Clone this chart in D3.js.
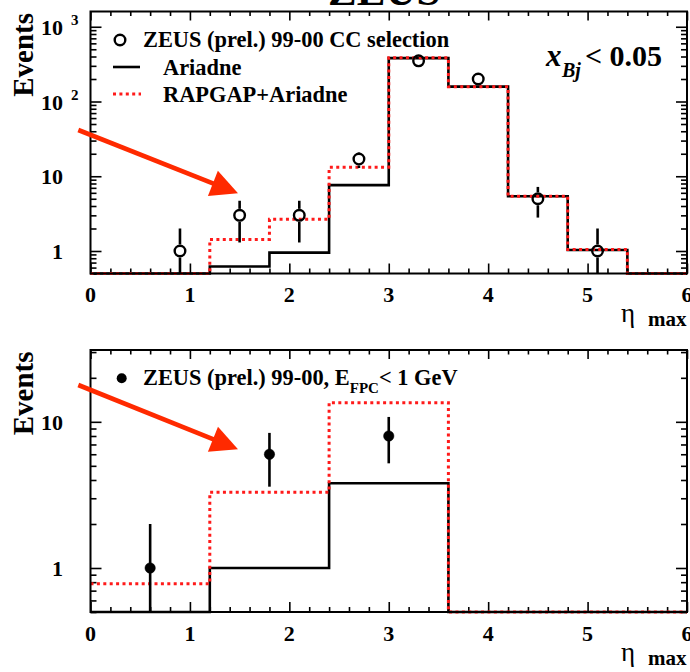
<!DOCTYPE html>
<html>
<head>
<meta charset="utf-8">
<script src="https://cdn.jsdelivr.net/npm/d3@7"></script>
<style>
  html, body { margin: 0; padding: 0; background: #fff; }
  svg text { font-family: "Liberation Serif", "Times New Roman", serif; }
</style>
</head>
<body>
<svg id="chart" width="690" height="672"></svg>
<script>
// ---------------- DATA ----------------
// Top panel (x_Bj < 0.05), bins of 0.6 in eta_max
const topEdges = [0, 0.6, 1.2, 1.8, 2.4, 3.0, 3.6, 4.2, 4.8, 5.4, 6.0];
const topAriadne = [0, 0, 0.62, 0.95, 7.6, 380, 158, 5.4, 1.03, 0];
const topRapgap  = [0, 0, 1.43, 2.65, 13.2, 385, 158, 5.4, 1.05, 0];
const topDataX   = [0.9, 1.5, 2.1, 2.7, 3.3, 3.9, 4.5, 5.1];
const topDataY   = [1, 3, 3, 17, 350, 200, 5, 1];
const topDataErr = [1, 1.7, 1.7, 4.1, 18.7, 14.1, 2.2, 1];
const topYTicks  = [1, 10, 100, 1000];
const topYBase   = ["1", "10", "10", "10"];
const topYExp    = ["", "", "2", "3"];

// Bottom panel (E_FPC < 1 GeV), bins of 1.2 in eta_max
const botEdges = [0, 1.2, 2.4, 3.6, 4.8, 6.0];
const botAriadne = [0, 1.0, 3.8, 0, 0];
const botRapgap  = [0.78, 3.3, 13.5, 0, 0];
const botDataX   = [0.6, 1.8, 3.0];
const botDataY   = [1, 6, 8];
const botDataErr = [1, 2.4, 2.8];
const botYTicks  = [1, 10];
const botYBase   = ["1", "10"];
const botYExp    = ["", ""];

const xTicks = [0, 1, 2, 3, 4, 5, 6];
const xTickLabels = ["0", "1", "2", "3", "4", "5", "6"];

const legendTop = ["ZEUS (prel.) 99-00 CC selection", "Ariadne", "RAPGAP+Ariadne"];

// ---------------- LAYOUT ----------------
const svg = d3.select("#chart");
svg.append("rect").attr("width", 690).attr("height", 672).attr("fill", "#fff");

const RED = "#ff1a1a";
const ARROW = "#ff2a00";
const xS = d3.scaleLinear().domain([0, 6]).range([90.5, 687]);
const yTop = d3.scaleLog().domain([0.5, 1600]).range([273.5, 11.5]);
const yBot = d3.scaleLog().domain([0.5, 31]).range([612, 350]);

function logMinors(dom) {
  const out = [];
  for (let e = -1; e <= 4; e++) {
    for (let m = 1; m <= 9; m++) {
      const v = m * Math.pow(10, e);
      if (v >= dom[0] - 1e-9 && v <= dom[1] + 1e-9) out.push(v);
    }
  }
  return out;
}

function histPoints(edges, vals, y) {
  const ymin = y.domain()[0];
  const pts = [];
  vals.forEach((v, i) => {
    const vv = Math.max(v, ymin);
    pts.push([xS(edges[i]), y(vv)]);
    pts.push([xS(edges[i + 1]), y(vv)]);
  });
  return pts;
}

function drawPanel(cfg) {
  const y = cfg.y;
  const [y0, y1] = y.range();
  const g = svg.append("g");
  const x0 = xS.range()[0], x1 = xS.range()[1];

  // ticks
  const xMinor = d3.range(0, 6.0001, 0.2).filter(v => Math.abs(v - Math.round(v)) > 1e-6);
  const tickStyle = sel => { sel.select(".domain").remove(); sel.selectAll("line").attr("stroke", "#000").attr("stroke-width", 1.6); sel.selectAll("text").remove(); };
  g.append("g").attr("transform", `translate(0,${y0})`).call(d3.axisBottom(xS).tickValues(xTicks).tickSize(-10).tickFormat("")).call(tickStyle);
  g.append("g").attr("transform", `translate(0,${y0})`).call(d3.axisBottom(xS).tickValues(xMinor).tickSize(-5).tickFormat("")).call(tickStyle);
  g.append("g").attr("transform", `translate(0,${y1})`).call(d3.axisTop(xS).tickValues(xTicks).tickSize(-9).tickFormat("")).call(tickStyle);
  g.append("g").attr("transform", `translate(0,${y1})`).call(d3.axisTop(xS).tickValues(xMinor).tickSize(-4.5).tickFormat("")).call(tickStyle);
  const minors = logMinors(y.domain()).filter(v => !cfg.yTicks.includes(v));
  g.append("g").attr("transform", `translate(${x0},0)`).call(d3.axisLeft(y).tickValues(cfg.yTicks).tickSize(-11).tickFormat("")).call(tickStyle);
  g.append("g").attr("transform", `translate(${x0},0)`).call(d3.axisLeft(y).tickValues(minors).tickSize(-6).tickFormat("")).call(tickStyle);
  g.append("g").attr("transform", `translate(${x1},0)`).call(d3.axisRight(y).tickValues(cfg.yTicks).tickSize(-11).tickFormat("")).call(tickStyle);
  g.append("g").attr("transform", `translate(${x1},0)`).call(d3.axisRight(y).tickValues(minors).tickSize(-6).tickFormat("")).call(tickStyle);

  // histograms
  const line = d3.line();
  g.append("path").attr("d", line(histPoints(cfg.edges, cfg.ariadne, y)))
    .attr("fill", "none").attr("stroke", "#000").attr("stroke-width", 2.6);
  g.append("path").attr("d", line(histPoints(cfg.edges, cfg.rapgap, y)))
    .attr("fill", "none").attr("stroke", RED).attr("stroke-width", 3).attr("stroke-dasharray", "3,3.4");

  // data points with error bars (gap around marker)
  const r = 5.3;
  cfg.dx.forEach((xv, i) => {
    const cy = y(cfg.dy[i]);
    const lo = Math.max(cfg.dy[i] - cfg.de[i], y.domain()[0]);
    const hi = cfg.dy[i] + cfg.de[i];
    const yl = y(lo), yh = y(hi);
    const gap = cfg.open ? r + 1.2 : 0;
    if (cy - gap > yh) g.append("line").attr("x1", xS(xv)).attr("x2", xS(xv)).attr("y1", yh).attr("y2", cy - gap).attr("stroke", "#000").attr("stroke-width", 2.6);
    if (cy + gap < yl) g.append("line").attr("x1", xS(xv)).attr("x2", xS(xv)).attr("y1", cy + gap).attr("y2", yl).attr("stroke", "#000").attr("stroke-width", 2.6);
    g.append("circle").attr("cx", xS(xv)).attr("cy", cy).attr("r", cfg.open ? r : 5.2)
      .attr("fill", cfg.open ? "none" : "#000").attr("stroke", "#000").attr("stroke-width", cfg.open ? 2.4 : 0.5);
  });

  // frame
  g.append("rect").attr("x", x0).attr("y", y1).attr("width", x1 - x0).attr("height", y0 - y1)
    .attr("fill", "none").attr("stroke", "#000").attr("stroke-width", 2);

  // x tick labels
  xTicks.forEach((v, i) => {
    g.append("text").attr("x", xS(v)).attr("y", y0 + 28.5).attr("text-anchor", "middle")
      .attr("font-size", 22).attr("font-weight", "bold").text(xTickLabels[i]);
  });
  // y tick labels
  cfg.yTicks.forEach((v, i) => {
    g.append("text").attr("x", 63).attr("y", y(v) + 8).attr("text-anchor", "end")
      .attr("font-size", 22).attr("font-weight", "bold").text(cfg.yBase[i]);
    if (cfg.yExp[i]) {
      g.append("text").attr("x", 71).attr("y", y(v) - 1.5).attr("font-size", 15)
        .attr("font-weight", "bold").text(cfg.yExp[i]);
    }
  });
  // axis titles
  g.append("text").attr("transform", `translate(33,${y1 + 1.5}) rotate(-90)`).attr("text-anchor", "end")
    .attr("font-size", 29).attr("font-weight", "bold").text("Events");
  g.append("text").attr("x", 621).attr("y", y0 + 48.5).attr("font-size", 27).text("η");
  g.append("text").attr("x", 648).attr("y", y0 + 52.5).attr("font-size", 21).attr("font-weight", "bold").text("max");
  return g;
}

drawPanel({ y: yTop, edges: topEdges, ariadne: topAriadne, rapgap: topRapgap, dx: topDataX, dy: topDataY, de: topDataErr,
  yTicks: topYTicks, yBase: topYBase, yExp: topYExp, open: true });
drawPanel({ y: yBot, edges: botEdges, ariadne: botAriadne, rapgap: botRapgap, dx: botDataX, dy: botDataY, de: botDataErr,
  yTicks: botYTicks, yBase: botYBase, yExp: botYExp, open: false });

// ---------------- TITLE / LEGENDS ----------------
svg.append("text").attr("x", 328).attr("y", 4.5).attr("font-size", 43).attr("font-weight", "bold").text("ZEUS");

// top legend
svg.append("circle").attr("cx", 120).attr("cy", 40).attr("r", 5.3).attr("fill", "none").attr("stroke", "#000").attr("stroke-width", 2.4);
svg.append("text").attr("x", 143).attr("y", 46.5).attr("font-size", 22.4).attr("font-weight", "bold").text(legendTop[0]);
svg.append("line").attr("x1", 113).attr("x2", 140).attr("y1", 67).attr("y2", 67).attr("stroke", "#000").attr("stroke-width", 2.6);
svg.append("text").attr("x", 163).attr("y", 75).attr("font-size", 22.4).attr("font-weight", "bold").text(legendTop[1]);
svg.append("line").attr("x1", 113).attr("x2", 141).attr("y1", 94).attr("y2", 94).attr("stroke", RED).attr("stroke-width", 3).attr("stroke-dasharray", "3,3.4");
svg.append("text").attr("x", 163).attr("y", 101.5).attr("font-size", 22.4).attr("font-weight", "bold").text(legendTop[2]);

// x_Bj label
const xb = svg.append("text").attr("y", 66).attr("font-weight", "bold");
xb.append("tspan").attr("x", 546).attr("font-size", 31).attr("font-style", "italic").text("x");
xb.append("tspan").attr("x", 562).attr("dy", 11).attr("font-size", 20).attr("font-style", "italic").text("Bj");
xb.append("tspan").attr("x", 585).attr("dy", -11).attr("font-size", 30).text("< 0.05");

// bottom legend
svg.append("circle").attr("cx", 121.7).attr("cy", 378.3).attr("r", 5).attr("fill", "#000");
const bl = svg.append("text").attr("y", 385).attr("font-size", 22.4).attr("font-weight", "bold");
bl.append("tspan").attr("x", 143).text("ZEUS (prel.) 99-00, E");
bl.append("tspan").attr("dy", 8).attr("font-size", 15).text("FPC");
bl.append("tspan").attr("dy", -8).text("< 1 GeV");

// ---------------- ARROWS (annotations) ----------------
const arrows = [
  { tail: [78.3, 130], tip: [238, 193.3] },
  { tail: [78.3, 385], tip: [238, 449.3] }
];
arrows.forEach(a => {
  const dx = a.tip[0] - a.tail[0], dy = a.tip[1] - a.tail[1];
  const L = Math.hypot(dx, dy), ux = dx / L, uy = dy / L, px = -uy, py = ux;
  const hl = 27, hw = 13.5;
  const bx = a.tip[0] - hl * ux, by = a.tip[1] - hl * uy;
  svg.append("line").attr("x1", a.tail[0]).attr("y1", a.tail[1]).attr("x2", bx + 2 * ux).attr("y2", by + 2 * uy)
    .attr("stroke", ARROW).attr("stroke-width", 4.6);
  svg.append("path").attr("d", `M${a.tip[0]},${a.tip[1]}L${bx + hw * px},${by + hw * py}L${bx - hw * px},${by - hw * py}Z`)
    .attr("fill", ARROW);
});
</script>
</body>
</html>
